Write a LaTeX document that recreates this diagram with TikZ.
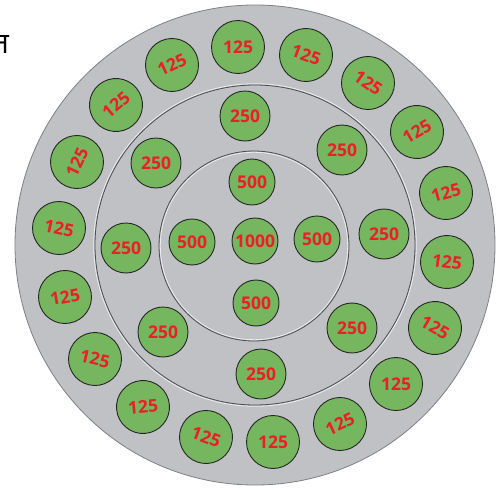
\documentclass[tikz,border=0pt]{standalone}
\usepackage{fontspec}
\newfontfamily\numfont{Open Sans}
\newfontfamily\devfont[Script=Devanagari]{Noto Sans}
\definecolor{disc}{RGB}{192,193,197}
\definecolor{chipgreen}{RGB}{118,182,94}
\definecolor{chipred}{RGB}{236,30,38}
\tikzset{
  chip/.style={circle, draw=black!85, line width=0.9pt, fill=chipgreen, inner sep=0pt,
    text=chipred, font=\numfont\bfseries\fontsize{17.5}{17.5}\selectfont},
  c125/.style={chip, minimum size=53pt},
  c250/.style={chip, minimum size=50pt},
  c500/.style={chip, minimum size=46pt},
  ringline/.style={draw=black!70, line width=0.8pt},
  ringhi/.style={draw=white, line width=0.8pt, opacity=0.7},
}
\begin{document}
\begin{tikzpicture}[x=1pt,y=-1pt]
\useasboundingbox (0,0) rectangle (499,490);
% disc and rings
\fill[disc] (255,245) circle (240pt);
\draw[draw=black!50, line width=0.8pt] (255,245) circle (240pt);
\draw[ringhi] (255,245) circle (161.3pt);
\draw[ringline] (255,245) circle (160pt);
\draw[ringhi] (254,246) circle (93.7pt);
\draw[ringline] (254,246) circle (95pt);
% script character
\node[anchor=base east, inner sep=0pt, font=\devfont\fontsize{29}{29}\selectfont] (dev) at (9,53) {त};
% centre
\node[c500] (c1000) at (255,241) {1000};
% 500 ring
\node[c500] (f1) at (252,182) {500};
\node[c500] (f2) at (317,239) {500};
\node[c500] (f3) at (256,303) {500};
\node[c500] (f4) at (192,242) {500};
% 250 ring
\node[c250] (t1) at (245,116) {250};
\node[c250] (t2) at (342,150) {250};
\node[c250] (t3) at (384,234) {250};
\node[c250] (t4) at (352,328) {250};
\node[c250] (t5) at (261,374) {250};
\node[c250] (t6) at (163,332) {250};
\node[c250] (t7) at (126,248) {250};
\node[c250] (t8) at (156,163) {250};
% 125 ring
\node[c125] (o1) at (238,47) {125};
\node[c125, rotate=-20] (o2) at (306,55) {125};
\node[c125, rotate=-35] (o3) at (368,83) {125};
\node[c125, rotate=30] (o4) at (417,132) {125};
\node[c125, rotate=15] (o5) at (446,193) {125};
\node[c125, rotate=-8] (o6) at (447,262) {125};
\node[c125, rotate=-30] (o7) at (435,328) {125};
\node[c125] (o8) at (396,384) {125};
\node[c125, rotate=25] (o9) at (340,424) {125};
\node[c125] (o10) at (273,442) {125};
\node[c125, rotate=-20] (o11) at (206,437) {125};
\node[c125, rotate=5] (o12) at (143,407) {125};
\node[c125, rotate=-13] (o13) at (95,359) {125};
\node[c125, rotate=10] (o14) at (65,297) {125};
\node[c125, rotate=-12] (o15) at (59,228) {125};
\node[c125, rotate=65] (o16) at (77,162) {125};
\node[c125, rotate=40] (o17) at (116,105) {125};
\node[c125, rotate=25] (o18) at (172,65) {125};
\end{tikzpicture}
\end{document}
